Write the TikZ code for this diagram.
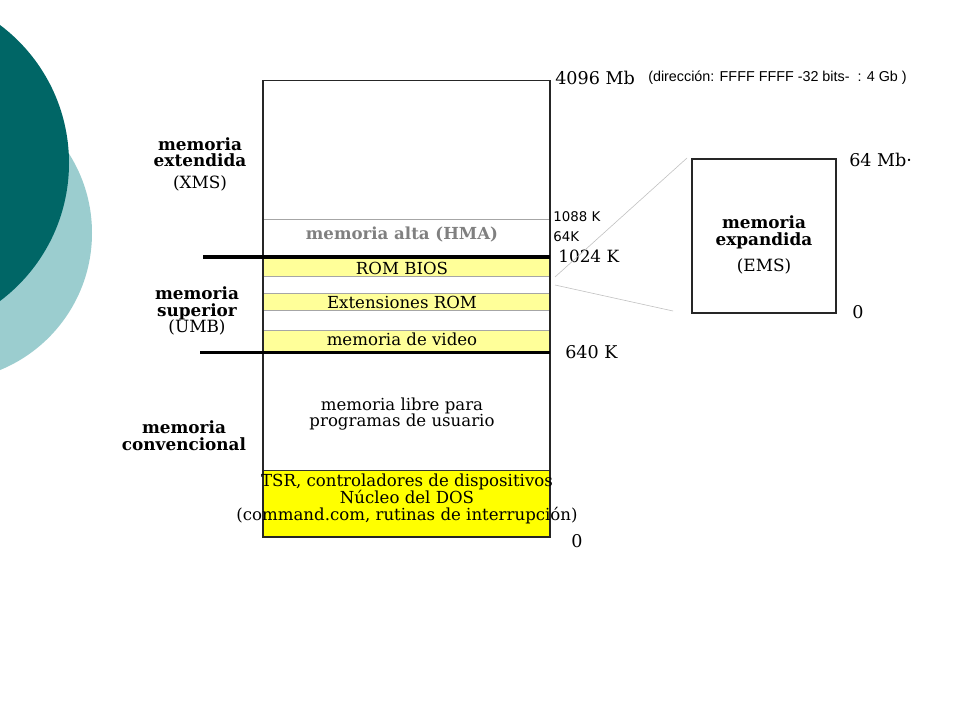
\documentclass[tikz,border=0pt]{standalone}
\usepackage{fontspec}
\setmainfont{DejaVu Serif}
\setsansfont{Liberation Sans}
\newfontfamily\tickfont{DejaVu Sans}
\usepackage{tikz}

\definecolor{tealdark}{RGB}{0,102,102}
\definecolor{teallight}{RGB}{155,205,207}
\definecolor{paleyellow}{RGB}{255,255,153}
\definecolor{dosyellow}{RGB}{255,255,0}

\tikzset{
  zone/.style={font=\fontsize{12}{12}\selectfont\bfseries, align=center, inner sep=0pt},
  block/.style={font=\fontsize{11.8}{12}\selectfont, align=center, inner sep=0pt},
  addr/.style={anchor=west, font=\fontsize{12.5}{14}\selectfont, inner sep=0pt},
  tick/.style={anchor=west, font=\tickfont\fontsize{9.5}{10}\selectfont, inner sep=0pt},
}

\begin{document}
\begin{tikzpicture}[scale=0.5]
   \clip (0,0) rectangle (48,36);
   \fill[white] (0,0) rectangle (48,36);

   % slide decoration
   \fill[teallight] (-2.8, 24.35) circle (7.4);
   \fill[tealdark] (-5.175, 27.85) circle (8.625);

   % memory map
   \fill[paleyellow] (13.15, 23.1) rectangle (27.5, 22.2);
   \fill[paleyellow] (13.15, 21.35) rectangle (27.5, 20.5);
   \fill[paleyellow] (13.15, 19.5) rectangle (27.5, 18.45);
   \fill[dosyellow] (13.15, 12.5) rectangle (27.5, 9.15);

   \draw[gray!70] (13.15, 25.03) -- (27.5, 25.03);
   \draw[gray!70] (13.15, 22.2) -- (27.5, 22.2);
   \draw[gray!70] (13.15, 21.35) -- (27.5, 21.35);
   \draw[gray!70] (13.15, 20.5) -- (27.5, 20.5);
   \draw[gray!70] (13.15, 19.5) -- (27.5, 19.5);
   \draw[black!80] (13.15, 12.5) -- (27.5, 12.5);

   \draw[black!85, line width=0.9pt] (13.15, 9.15) rectangle (27.5, 31.97);
   \draw[line width=2.6pt] (10.15, 23.15) -- (27.5, 23.15);
   \draw[line width=2.6pt] (10.0, 18.375) -- (27.5, 18.375);

   \node[block, font=\fontsize{11.8}{12}\selectfont\bfseries, text=gray] (hma) at (20.1, 24.3) {memoria alta (HMA)};
   \node[block] (bios) at (20.1, 22.6) {ROM BIOS};
   \node[block] (extrom) at (20.1, 20.9) {Extensiones ROM};
   \node[block] (video) at (20.1, 19.05) {memoria de video};
   \node[block] (libre) at (20.1, 15.3) {memoria libre para\\programas de usuario};
   \node[block] (dos) at (20.35, 11.05) {TSR, controladores de dispositivos\\N\'ucleo del DOS\\(command.com, rutinas de interrupci\'on)};

   % zones
   \node[zone] (xms) at (10.0, 27.8) {memoria\\extendida\\[3pt]{\mdseries (XMS)}};
   \node[zone] (umb) at (9.85, 20.45) {memoria\\superior\\{\mdseries (UMB)}};
   \node[zone] (conv) at (9.2, 14.2) {memoria\\convencional};

   % addresses
   \node[addr] (top) at (27.75, 32.1) {4096 Mb};
   \node[anchor=west, inner sep=0pt, font=\sffamily\fontsize{10.2}{12}\selectfont] (dir) at (32.4, 32.1) {(dirección: FFFF FFFF -32 bits-~~: 4 Gb )};
   \node[tick] (k1088) at (27.65, 25.15) {1088 K};
   \node[tick] (k64) at (27.65, 24.15) {64K};
   \node[addr, font=\fontsize{12}{14}\selectfont] (k1024) at (27.9, 23.2) {1024 K};
   \node[addr] (k640) at (28.25, 18.4) {640 K};
   \node[addr] (zero) at (28.55, 8.95) {0};

   % expanded memory
   \coordinate (a1) at (27.75, 22.15);
   \coordinate (a2) at (27.75, 21.75);
   \coordinate (b1) at (34.35, 28.1);
   \coordinate (b2) at (33.65, 20.45);
   \draw[gray!50] (a1) -- (b1);
   \draw[gray!50] (a2) -- (b2);
   \draw[black!85, line width=0.9pt] (34.6, 20.35) rectangle (41.8, 28.05);
   \node[zone] (ems) at (38.2, 23.75) {memoria\\expandida\\[7pt]{\mdseries (EMS)}};
   \node[addr] (emstop) at (42.45, 28.0) {64 Mb\textperiodcentered};
   \node[addr] (emszero) at (42.6, 20.4) {0};
\end{tikzpicture}
\end{document}
